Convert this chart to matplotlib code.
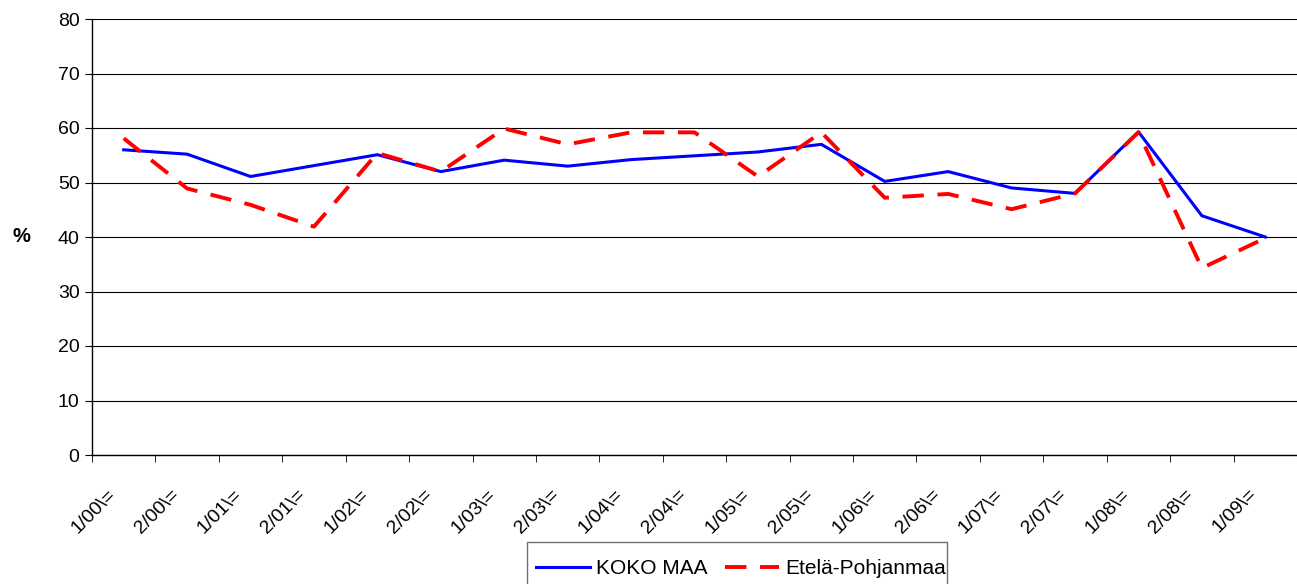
import matplotlib.pyplot as plt
import matplotlib.transforms as mtransforms
from matplotlib.patches import Rectangle
import numpy as np

categories = ['1/00\\=', '2/00\\=', '1/01\\=', '2/01\\=', '1/02\\=', '2/02\\=', '1/03\\=',
              '2/03\\=', '1/04\\=', '2/04\\=', '1/05\\=', '2/05\\=', '1/06\\=', '2/06\\=',
              '1/07\\=', '2/07\\=', '1/08\\=', '2/08\\=', '1/09\\=']
koko_maa = [56.0, 55.2, 51.1, 53.1, 55.1, 52.0, 54.1, 53.0, 54.2, 54.9,
            55.6, 57.0, 50.2, 52.0, 49.0, 48.0, 59.3, 43.9, 40.0]
etela_pohjanmaa = [58.1, 48.9, 45.9, 41.9, 55.4, 52.0, 59.9, 57.0, 59.2, 59.2,
                   51.1, 59.2, 47.2, 47.9, 45.1, 48.0, 59.2, 34.3, 39.8]

plt.rcParams['font.family'] = ['Liberation Sans', 'DejaVu Sans']

fig = plt.figure(figsize=(12.97, 5.84), dpi=100)
ax = fig.add_axes([92 / 1297, 1 - 455 / 584, 1205 / 1297, 436 / 584])

x = np.arange(len(categories))
ax.plot(x, koko_maa, color='#0000FF', lw=2.2, label='KOKO MAA')
ax.plot(x, etela_pohjanmaa, color='#FF0000', lw=2.8, dashes=(5.5, 3.5), label='Etelä-Pohjanmaa')

ax.set_xlim(-0.5, len(categories) - 0.5)
ax.set_ylim(0, 80)
ax.set_yticks(range(0, 81, 10))
ax.grid(axis='y', color='black', lw=0.8)
ax.set_axisbelow(True)

for s in ['top', 'right']:
    ax.spines[s].set_visible(False)
for s in ['left', 'bottom']:
    ax.spines[s].set_linewidth(1.0)

ax.set_xticks(x)
ax.set_xticks(np.arange(-0.5, len(categories), 1), minor=True)
ax.tick_params(axis='x', which='major', length=0, pad=22)
ax.tick_params(axis='x', which='minor', length=5, direction='out')
ax.tick_params(axis='y', length=5, labelsize=14, pad=4)
ax.set_xticklabels(categories, rotation=45, ha='right', va='top', fontsize=14)
offset = mtransforms.ScaledTranslation(-0.05, 0, fig.dpi_scale_trans)
for lbl in ax.get_xticklabels():
    lbl.set_transform(lbl.get_transform() + offset)

ax.set_ylabel('%', rotation=0, fontsize=14.5, fontweight='bold', va='center', ha='center')
ax.yaxis.set_label_coords((21 - 92) / 1205, 0.5)

# legend box (cut by the bottom edge like in the original)
fig.add_artist(Rectangle((527 / 1297, -0.05), (947 - 527) / 1297, 0.05 + (584 - 542) / 584,
                         transform=fig.transFigure, fill=False, edgecolor='#707070', lw=1.0))
fig.legend(loc='center left', bbox_to_anchor=(536 / 1297, 1 - 569 / 584), ncol=2,
           fontsize=15, frameon=False, handlelength=2.6,
           columnspacing=0.8, handletextpad=0.3, borderpad=0, borderaxespad=0)

plt.savefig('out.png', dpi=100)
